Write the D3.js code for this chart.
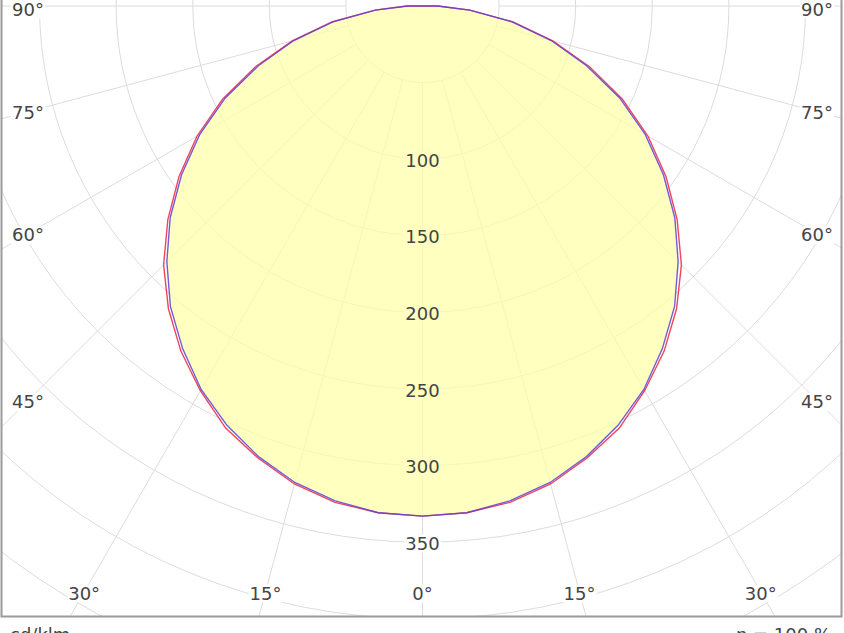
<!DOCTYPE html>
<html>
<head>
<meta charset="utf-8">
<title>Polar LDC</title>
<script src="https://d3js.org/d3.v7.min.js"></script>
<style>
  body { margin: 0; background: #fff; }
  svg { display: block; }
  text { font-family: "DejaVu Sans", Verdana, sans-serif; font-size: 18px; fill: #444; }
</style>
</head>
<body>
<svg width="844" height="633"></svg>
<script>
// gamma angles (deg) and intensities (cd/klm)
var angles   = [0, 5, 10, 15, 20, 25, 30, 35, 40, 45, 50, 55, 60, 65, 70, 75, 80, 85, 90];
var c0c180   = [333, 332, 329, 323, 314, 304, 290, 275, 258, 239, 217, 194, 170, 144, 116, 88, 60, 31, 10];
var c90c270  = [333, 332, 328, 322, 313, 302, 289, 273, 256, 236, 215, 192, 168, 142, 114, 87, 59, 31, 10];
var ringValues  = [50, 100, 150, 200, 250, 300, 350, 400, 450];
var ringLabels  = [100, 150, 200, 250, 300, 350];
var angleTicks  = [0, 15, 30, 45, 60, 75, 90];

var svg = d3.select("svg"),
    cx = 422.5, cy = 6,
    frame = {left: 1.5, right: 841.5, bottom: 616.5},
    inset = {side: 394.5, bottom: 586};

var r = d3.scaleLinear().domain([0, 350]).range([0, 350 * 1.532]);

svg.append("defs").append("clipPath").attr("id", "clip")
  .append("rect").attr("x", frame.left).attr("y", -20)
  .attr("width", frame.right - frame.left).attr("height", frame.bottom + 20);

var g = svg.append("g").attr("clip-path", "url(#clip)");
var plot = g.append("g").attr("transform", "translate(" + cx + "," + cy + ")");

// grid rings
plot.selectAll(".ring")
  .data(ringValues)
  .enter().append("circle")
    .attr("class", "ring")
    .attr("r", function(d) { return r(d); })
    .attr("fill", "none")
    .attr("stroke", "#dcdcdc")
    .attr("stroke-width", 1);

// radial lines, both sides
var spokes = [];
angleTicks.forEach(function(a) { spokes.push(a); if (a > 0) spokes.push(-a); });
plot.selectAll(".spoke")
  .data(spokes)
  .enter().append("line")
    .attr("class", "spoke")
    .attr("x1", function(d) { return r(50) * Math.sin(d * Math.PI / 180); })
    .attr("y1", function(d) { return r(50) * Math.cos(d * Math.PI / 180); })
    .attr("x2", function(d) { return 1200 * Math.sin(d * Math.PI / 180); })
    .attr("y2", function(d) { return 1200 * Math.cos(d * Math.PI / 180); })
    .attr("stroke", "#dcdcdc")
    .attr("stroke-width", 1);

// label layers: backgrounds go under the fill, text on top
var bgLayer = g.append("g");
var fillLayer = g.append("g").attr("transform", "translate(" + cx + "," + cy + ")");
var textLayer = svg.append("g");

// build closed curves from -90 to 90
function curvePoints(vals) {
  var pts = [];
  for (var i = angles.length - 1; i >= 0; i--) pts.push([Math.PI + angles[i] * Math.PI / 180, vals[i]]);
  for (var j = 1; j < angles.length; j++) pts.push([Math.PI - angles[j] * Math.PI / 180, vals[j]]);
  return pts;
}

var radial = d3.lineRadial()
    .angle(function(d) { return d[0]; })
    .radius(function(d) { return r(d[1]); })
    .curve(d3.curveLinearClosed);

fillLayer.append("path")
    .attr("d", radial(curvePoints(c90c270)))
    .attr("fill", "#ffffa8")
    .attr("fill-opacity", 0.72)
    .attr("stroke", "none");

fillLayer.append("path")
    .attr("d", radial(curvePoints(c0c180)))
    .attr("fill", "none")
    .attr("stroke", "#f0455a")
    .attr("stroke-width", 1.4);

fillLayer.append("path")
    .attr("d", radial(curvePoints(c90c270)))
    .attr("fill", "none")
    .attr("stroke", "#5a40d8")
    .attr("stroke-width", 1.4)
    .attr("stroke-opacity", 0.85);

// texts
var labels = [];
ringLabels.forEach(function(v) {
  labels.push({x: cx, y: cy + r(v), t: String(v)});
});
angleTicks.forEach(function(a) {
  var rad = a * Math.PI / 180, t = Math.tan(rad);
  var sides = a === 0 ? [1] : [-1, 1];
  sides.forEach(function(s) {
    var p;
    if (a < 90 && inset.bottom * t <= inset.side) p = {x: cx + s * inset.bottom * t, y: cy + inset.bottom};
    else p = {x: cx + s * inset.side, y: cy + (a === 90 ? 2 : inset.side / t)};
    labels.push({x: p.x, y: p.y, t: a + "\u00b0"});
  });
});

var txt = textLayer.selectAll(".lbl")
  .data(labels)
  .enter().append("text")
    .attr("class", "lbl")
    .attr("x", function(d) { return d.x; })
    .attr("y", function(d) { return d.y; })
    .attr("dy", "0.42em")
    .attr("text-anchor", "middle")
    .text(function(d) { return d.t; });

txt.each(function() {
  var b = this.getBBox();
  bgLayer.append("rect")
    .attr("x", b.x - 1).attr("y", b.y + 2)
    .attr("width", b.width + 2).attr("height", b.height - 3)
    .attr("fill", "#fff");
});

// frame
svg.append("path")
    .attr("d", "M" + frame.left + ",-5V" + frame.bottom + "H" + frame.right + "V-5")
    .attr("fill", "none")
    .attr("stroke", "#9a9a9a")
    .attr("stroke-width", 2);

svg.append("text").attr("x", 10).attr("y", 641).text("cd/klm");
svg.append("text").attr("x", 831).attr("y", 641).attr("text-anchor", "end").text("\u03b7 = 100 %");
</script>
</body>
</html>
